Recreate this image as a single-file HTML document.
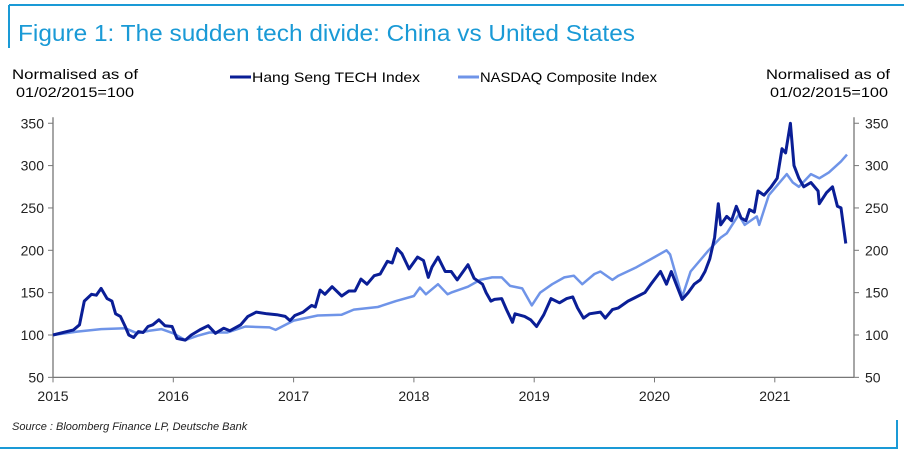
<!DOCTYPE html>
<html><head><meta charset="utf-8"><style>
body{margin:0;background:#fff;width:904px;height:455px;overflow:hidden;font-family:"Liberation Sans",sans-serif}
</style></head><body>
<svg width="904" height="455" font-family="Liberation Sans, sans-serif">
<line x1="9" y1="5" x2="904" y2="5" stroke="#1a9ad6" stroke-width="2"/>
<line x1="9" y1="5" x2="9" y2="48" stroke="#1a9ad6" stroke-width="2"/>
<line x1="0" y1="448" x2="898" y2="448" stroke="#1a9ad6" stroke-width="2"/>
<line x1="897" y1="420" x2="897" y2="449" stroke="#1a9ad6" stroke-width="2"/>
<text x="18" y="41" font-size="23" fill="#1a9ad6" textLength="617" lengthAdjust="spacingAndGlyphs">Figure 1: The sudden tech divide: China vs United States</text>
<text font-size="14" fill="#000"><tspan x="12" y="79" textLength="126" lengthAdjust="spacingAndGlyphs">Normalised as  of</tspan><tspan x="16" y="97" textLength="118" lengthAdjust="spacingAndGlyphs">01/02/2015=100</tspan></text>
<text font-size="14" fill="#000"><tspan x="766" y="79" textLength="124" lengthAdjust="spacingAndGlyphs">Normalised as  of</tspan><tspan x="770" y="97" textLength="118" lengthAdjust="spacingAndGlyphs">01/02/2015=100</tspan></text>
<g>
<line x1="230" y1="77" x2="251" y2="77" stroke="#0a1e96" stroke-width="3"/>
<text x="252" y="82" font-size="14" textLength="168" lengthAdjust="spacingAndGlyphs">Hang Seng TECH Index</text>
<line x1="458" y1="77" x2="479" y2="77" stroke="#6f94e8" stroke-width="3"/>
<text x="480" y="82" font-size="14" textLength="177" lengthAdjust="spacingAndGlyphs">NASDAQ Composite Index</text>
</g>
<g id="axes"></g>
<g id="series"></g>
<text x="12" y="430" font-size="11" font-style="italic" fill="#222">Source : Bloomberg Finance LP, Deutsche Bank</text>
</svg>
<script>
const yTicks=[50,100,150,200,250,300,350];
const xTicks=[2015,2016,2017,2018,2019,2020,2021];
const hsT=[0,0.17,0.22,0.26,0.32,0.36,0.40,0.45,0.49,0.52,0.56,0.60,0.63,0.67,0.71,0.75,0.79,0.83,0.88,0.93,0.99,1.03,1.10,1.15,1.22,1.29,1.35,1.42,1.47,1.56,1.62,1.69,1.78,1.86,1.93,1.97,2.01,2.08,2.15,2.18,2.22,2.26,2.32,2.40,2.46,2.51,2.56,2.61,2.67,2.72,2.78,2.82,2.86,2.90,2.96,3.03,3.08,3.12,3.15,3.20,3.26,3.31,3.36,3.45,3.50,3.57,3.60,3.64,3.67,3.73,3.77,3.82,3.84,3.92,3.97,4.02,4.08,4.14,4.21,4.27,4.32,4.36,4.41,4.46,4.55,4.59,4.65,4.70,4.78,4.85,4.92,4.97,5.05,5.10,5.14,5.18,5.23,5.28,5.33,5.38,5.42,5.46,5.50,5.53,5.55,5.60,5.64,5.68,5.72,5.76,5.79,5.83,5.86,5.91,5.97,6.02,6.06,6.09,6.13,6.16,6.20,6.24,6.30,6.36,6.37,6.43,6.48,6.52,6.55,6.59];
const hsV=[100,106,112,140,148,147,155,143,140,125,122,110,100,97,104,103,110,112,118,111,110,96,94,100,106,111,102,108,105,112,122,127,125,124,122,117,123,127,135,133,153,148,157,146,152,152,166,160,170,172,187,185,202,196,178,192,188,168,180,192,175,175,165,183,167,160,150,140,142,143,130,115,125,122,118,110,124,143,138,143,145,132,120,125,127,120,130,132,140,145,150,160,175,160,175,160,142,150,160,165,175,190,215,255,230,240,235,252,238,235,248,245,270,265,275,285,320,315,350,300,285,275,280,270,255,268,275,252,250,208];
const nqT=[0,0.2,0.4,0.6,0.7,0.8,0.9,1.0,1.1,1.2,1.3,1.45,1.6,1.8,1.85,2.0,2.2,2.4,2.5,2.7,2.85,3.0,3.05,3.1,3.2,3.28,3.31,3.45,3.55,3.65,3.73,3.8,3.9,3.98,4.05,4.15,4.25,4.33,4.4,4.5,4.55,4.65,4.7,4.85,5.0,5.1,5.13,5.23,5.3,5.45,5.55,5.6,5.7,5.75,5.85,5.87,5.95,6.1,6.15,6.2,6.3,6.37,6.45,6.55,6.6];
const nqV=[100,104,107,108,102,105,107,102,94,99,103,103,110,109,106,117,123,124,130,133,140,146,156,148,160,148,150,157,165,168,168,158,155,135,150,160,168,170,160,172,175,165,170,180,192,200,195,145,175,200,215,220,242,230,240,230,265,290,280,275,290,285,292,305,313];
const X=t=>53+t*120.3, Y=v=>335-(v-100)*0.847;
const ns="http://www.w3.org/2000/svg";
const axes=document.getElementById('axes'), ser=document.getElementById('series');
function mk(tag,a,p){const e=document.createElementNS(ns,tag);for(const k in a)e.setAttribute(k,a[k]);p.appendChild(e);return e;}
let e;
e=mk('line',{x1:53,y1:Y(350)-6,x2:53,y2:Y(50),stroke:'#777','stroke-width':1.3},axes);


e=mk('line',{x1:854,y1:Y(350)-6,x2:854,y2:Y(50),stroke:'#777','stroke-width':1.3},axes);


e=mk('line',{x1:53,y1:Y(50),x2:854,y2:Y(50),stroke:'#777','stroke-width':1.3},axes);


yTicks.forEach(v=>{
 e=mk('line',{x1:48,y1:Y(v),x2:53,y2:Y(v),stroke:'#777'},axes);
 
 
 e=mk('line',{x1:854,y1:Y(v),x2:859,y2:Y(v),stroke:'#777'},axes);
 
 
 e=mk('text',{x:44,y:Y(v)+5,'text-anchor':'end','font-size':14,fill:'#222'},axes);e.textContent=v;
 
 
 e=mk('text',{x:865,y:Y(v)+5,'font-size':14,fill:'#222'},axes);e.textContent=v;
 
 
});
xTicks.forEach(yr=>{
 const x=X(yr-2015);
 e=mk('line',{x1:x,y1:Y(50),x2:x,y2:Y(50)+5,stroke:'#777'},axes);
 
 
 e=mk('text',{x:x,y:401,'text-anchor':'middle','font-size':14,fill:'#222'},axes);e.textContent=yr;
 
 
});
function path(T,V){return T.map((t,i)=>(i?'L':'M')+X(t).toFixed(1)+','+Y(V[i]).toFixed(1)).join('');}
e=mk('path',{d:path(nqT,nqV),fill:'none',stroke:'#6f94e8','stroke-width':2.5,'stroke-linejoin':'round'},ser);


e=mk('path',{d:path(hsT,hsV),fill:'none',stroke:'#0a1e96','stroke-width':3,'stroke-linejoin':'round'},ser);


</script>
</body></html>
